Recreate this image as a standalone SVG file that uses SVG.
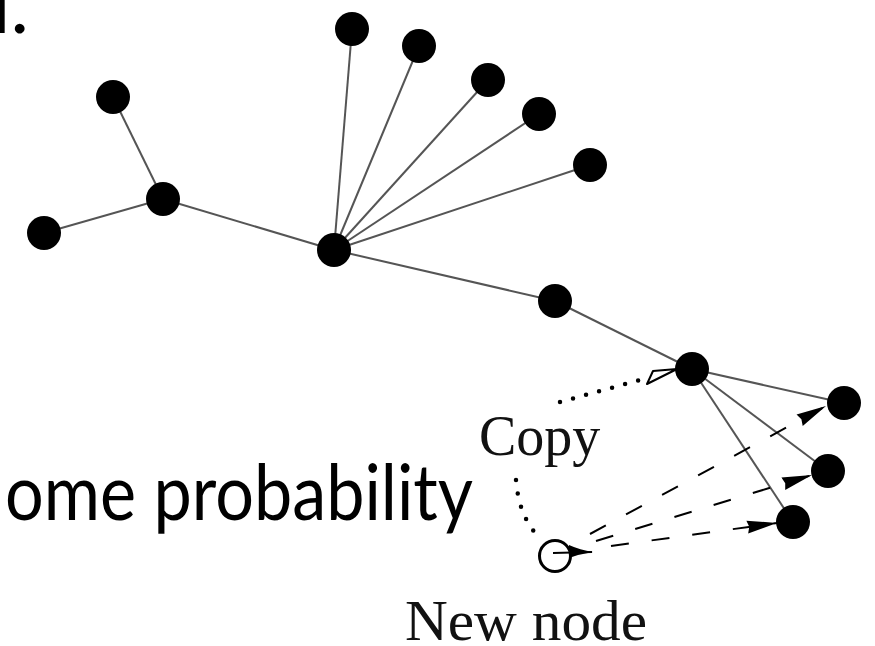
<svg xmlns="http://www.w3.org/2000/svg" width="875" height="646" viewBox="0 0 875 646">
  <style>
    .edge { stroke: #555; stroke-width: 2; fill: none; }
    .node { fill: #000; }
    .copyarrow { stroke: #000; stroke-width: 2; fill: none; stroke-dasharray: 18 23; }
    .dots { stroke: #000; stroke-width: 4.5; stroke-linecap: round; fill: none; stroke-dasharray: 0 13.5; }
    .slide { font-family: Lato, "Open Sans", sans-serif; fill: #000; }
    .label { font-family: "Liberation Serif", "Times New Roman", serif; fill: #111; }
  </style>
  <defs>
    <marker id="head" markerUnits="userSpaceOnUse" markerWidth="32" markerHeight="16" refX="30" refY="7" orient="auto">
      <path d="M0,0.5 L30,7 L0,13.5 L2,7 z" fill="#000"/>
    </marker>
  </defs>

  <rect width="875" height="646" fill="#fff"/>

  <!-- slide text cut by the frame -->
  <text class="slide" x="-8" y="33" font-size="78">l.</text>
  <text class="slide" x="5" y="520" font-size="78" textLength="468" lengthAdjust="spacingAndGlyphs">ome probability</text>

  <g id="connectors">
    <line class="edge" x1="113" y1="97" x2="163" y2="199"/>
    <line class="edge" x1="44" y1="233" x2="163" y2="199"/>
    <line class="edge" x1="163" y1="199" x2="334" y2="250"/>
    <line class="edge" x1="334" y1="250" x2="352" y2="29"/>
    <line class="edge" x1="334" y1="250" x2="419" y2="46"/>
    <line class="edge" x1="334" y1="250" x2="488" y2="80"/>
    <line class="edge" x1="334" y1="250" x2="539" y2="114"/>
    <line class="edge" x1="334" y1="250" x2="590" y2="165"/>
    <line class="edge" x1="334" y1="250" x2="555" y2="301"/>
    <line class="edge" x1="555" y1="301" x2="692" y2="369"/>
    <line class="edge" x1="692" y1="369" x2="844" y2="403"/>
    <line class="edge" x1="692" y1="369" x2="828" y2="471"/>
    <line class="edge" x1="692" y1="369" x2="793" y2="522"/>

    <!-- copy relation (dotted, open head) -->
    <line class="dots" x1="560" y1="402" x2="640" y2="380"/>
    <polygon points="647,384 653,371 677,369" fill="#fff" stroke="#000" stroke-width="2" stroke-linejoin="round"/>
    <path class="dots" d="M516,480 Q519,518 540,538"/>

    <!-- links of the new node (dashed) -->
    <line class="copyarrow" x1="590" y1="534" x2="826" y2="406" marker-end="url(#head)"/>
    <line class="copyarrow" x1="596" y1="541" x2="812" y2="475" marker-end="url(#head)"/>
    <line class="copyarrow" x1="611" y1="546" x2="777" y2="523" marker-end="url(#head)"/>
  </g>

  <g id="n-a"><circle class="node" cx="113" cy="97" r="17"/></g>
  <g id="n-b"><circle class="node" cx="163" cy="199" r="17"/></g>
  <g id="n-c"><circle class="node" cx="44" cy="233" r="17"/></g>
  <g id="n-d"><circle class="node" cx="334" cy="250" r="17"/></g>
  <g id="n-t1"><circle class="node" cx="352" cy="29" r="17"/></g>
  <g id="n-t2"><circle class="node" cx="419" cy="46" r="17"/></g>
  <g id="n-t3"><circle class="node" cx="488" cy="80" r="17"/></g>
  <g id="n-t4"><circle class="node" cx="539" cy="114" r="17"/></g>
  <g id="n-t5"><circle class="node" cx="590" cy="165" r="17"/></g>
  <g id="n-f"><circle class="node" cx="555" cy="301" r="17"/></g>
  <g id="n-e"><circle class="node" cx="692" cy="369" r="17"/></g>
  <g id="n-r1"><circle class="node" cx="844" cy="403" r="17"/></g>
  <g id="n-r2"><circle class="node" cx="828" cy="471" r="17"/></g>
  <g id="n-r3"><circle class="node" cx="793" cy="522" r="17"/></g>

  <g id="n-new">
    <circle cx="555" cy="556" r="15.5" fill="#fff" stroke="#000" stroke-width="3"/>
    <line x1="553" y1="553" x2="592" y2="552" stroke="#000" stroke-width="2"/>
    <path d="M569,545 Q580,550 593,552 Q580,554 569,558 z" fill="#000"/>
  </g>

  <g id="labels">
    <text class="label" x="479" y="455" font-size="56">Copy</text>
    <text class="label" x="405" y="640" font-size="57" textLength="242" lengthAdjust="spacingAndGlyphs">New node</text>
  </g>
</svg>
